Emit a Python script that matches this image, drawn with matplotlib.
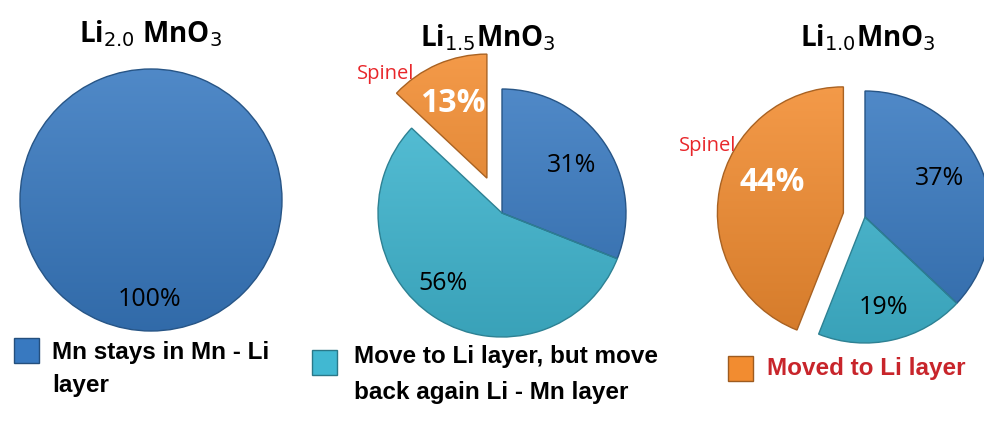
import numpy as np
import matplotlib
matplotlib.use("Agg")
import matplotlib.pyplot as plt
from matplotlib.colors import to_rgb
from matplotlib.patches import Rectangle

W, H = 984, 423

# data
titles = ["Li$_{2.0}$ MnO$_3$", "Li$_{1.5}$MnO$_3$", "Li$_{1.0}$MnO$_3$"]
pie1_values = [100]
pie2_values = [31, 56, 13]
pie3_values = [37, 19, 44]
legend_labels = [["Mn stays in Mn - Li", "layer"],
                 ["Move to Li layer, but move", "back again Li - Mn layer"],
                 ["Moved to Li layer"]]
spinel_label = "Spinel"

blue = "#3879c0"
cyan = "#41b8d2"
orange = "#f28c30"
red_text = "#e8262a"
legend_red = "#c8252b"

plt.rcParams["font.family"] = ["Open Sans", "DejaVu Sans"]


def Y(y):
    # convert from top-down pixel coordinate
    return H - y


def shade(c, f):
    c = np.array(to_rgb(c))
    if f > 0:
        return c + (1 - c) * f
    return c * (1 + f)


def gradient_fill(ax, wedges):
    # soft vertical gradient clipped to each wedge
    for w in wedges:
        col = w.get_facecolor()[:3]
        cx, cy = w.center
        r = w.r
        top = shade(col, 0.12)
        bot = shade(col, -0.12)
        t = np.linspace(0, 1, 256)[:, None, None]
        img = top[None, None, :] * (1 - t) + bot[None, None, :] * t
        img = np.repeat(img, 2, axis=1)
        im = ax.imshow(img, extent=(cx - r, cx + r, cy - r, cy + r),
                       origin="upper", aspect="auto", zorder=2)
        im.set_clip_path(w)
        w.set_zorder(3)
        w.set_facecolor("none")
        w.set_edgecolor(shade(col, -0.3))
        w.set_linewidth(1.0)


fig = plt.figure(figsize=(W / 100, H / 100), dpi=100)
ax = fig.add_axes([0, 0, 1, 1])

# pie 1
w1, _ = ax.pie(pie1_values, colors=[blue], startangle=90, counterclock=False,
               center=(151, Y(200)), radius=131)
gradient_fill(ax, w1)

# pie 2
w2, _ = ax.pie(pie2_values, colors=[blue, cyan, orange], startangle=90,
               counterclock=False, center=(502, Y(213)), radius=124,
               explode=[0, 0, 38])
gradient_fill(ax, w2)

# pie 3
w3, _ = ax.pie(pie3_values, colors=[blue, cyan, orange], startangle=90,
               counterclock=False, center=(865, Y(217)), radius=126,
               explode=[0, 0, 22])
gradient_fill(ax, w3)

# titles
for x, y, t in zip([150, 488, 868], [34, 38, 38], titles):
    ax.text(x, Y(y), t, ha="center", va="center", fontsize=20,
            fontweight="bold")

# slice labels
pct = dict(ha="center", va="center", fontsize=18, color="black")
ax.text(150, Y(300), f"{pie1_values[0]}%", **pct)
ax.text(572, Y(165), f"{pie2_values[0]}%", **pct)
ax.text(443, Y(283), f"{pie2_values[1]}%", **pct)
ax.text(940, Y(178), f"{pie3_values[0]}%", **pct)
ax.text(883, Y(308), f"{pie3_values[1]}%", **pct)
big = dict(ha="center", va="center", fontsize=23, color="white",
           fontweight="bold")
ax.text(453, Y(103), f"{pie2_values[2]}%", **big)
ax.text(772, Y(182), f"{pie3_values[2]}%", **big)

sp = dict(ha="center", va="center", fontsize=14.5, color=red_text)
ax.text(386, Y(74), spinel_label, **sp)
ax.text(708, Y(146), spinel_label, **sp)

# legend
squares = [(14, 338), (312, 350), (728, 356)]
line_x = [52, 354, 767]
line_y = [[352, 385], [357, 392], [368]]
for (sx, sy), tx, ys, lines, col in zip(squares, line_x, line_y,
                                        legend_labels, [blue, cyan, orange]):
    ax.add_patch(Rectangle((sx, Y(sy + 25)), 25, 25, facecolor=col,
                           edgecolor=shade(col, -0.35), linewidth=1))
    for ty, line in zip(ys, lines):
        ax.text(tx, Y(ty), line, ha="left", va="center", fontsize=17.5,
                fontweight="bold", family=["Liberation Sans", "DejaVu Sans"],
                color=legend_red if col == orange else "black")

ax.set_xlim(0, W)
ax.set_ylim(0, H)
ax.set_aspect("equal")
ax.axis("off")

fig.savefig("out.png", dpi=100)
